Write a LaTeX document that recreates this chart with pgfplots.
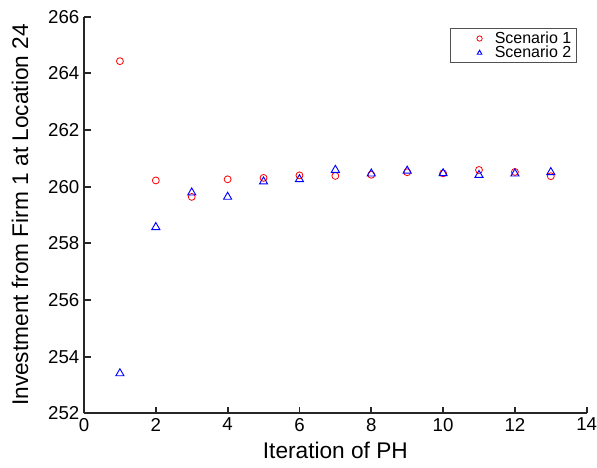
\documentclass[border=0pt]{standalone}
\usepackage{pgfplots}
\pgfplotsset{compat=1.18}
\usepackage{fontspec}
\setmainfont{Liberation Sans}

\definecolor{axgray}{RGB}{38,38,38}

\begin{document}
\begin{tikzpicture}
\begin{axis}[
    name=ax,
    scale only axis,
    width=377pt, height=297.5pt,
    xmin=0, xmax=14, ymin=252, ymax=266,
    xtick={0,2,...,14}, ytick={252,254,...,266},
    axis x line=bottom, axis y line=left,
    axis line style={-, axgray, line width=1.4pt},
    every tick/.style={axgray, line width=1.4pt},
    tick align=inside,
    major tick length=5pt,
    tick label style={font=\fontsize{14}{16}\selectfont},
    /pgf/number format/assume math mode=true,
    xlabel={Iteration of PH},
    ylabel={Investment from Firm 1 at Location 24},
    label style={font=\fontsize{17}{20}\selectfont},
    xlabel style={yshift=-1.5pt},
    ylabel style={yshift=8pt},
    clip=false,
    legend style={at={(1,1)}, anchor=north east, xshift=-7.3pt, yshift=-8.7pt,
        font=\fontsize{12}{13}\selectfont, draw=axgray!80, line width=0.6pt,
        inner xsep=2pt, inner ysep=2pt, row sep=0pt,
        nodes={text height=8.6pt, text depth=1.6pt, inner ysep=0.3pt}},
    legend cell align=left,
    legend image code/.code={
        \path[draw=none] (0,0) -- (1.02cm,0);
        \draw[#1, only marks, mark size=2pt] plot coordinates {(0.69cm,0cm)};
    },
]
\addplot[only marks, red, mark=o, mark size=2.6pt, line width=0.6pt] coordinates {
    (1,264.43) (2,260.22) (3,259.64) (4,260.26) (5,260.31) (6,260.40) (7,260.38)
    (8,260.42) (9,260.51) (10,260.47) (11,260.59) (12,260.52) (13,260.37)
};
\addlegendentry{Scenario 1}
\addplot[only marks, blue, mark=triangle, mark size=3.5pt, line width=0.7pt] coordinates {
    (1,253.41) (2,258.57) (3,259.79) (4,259.64) (5,260.18) (6,260.26) (7,260.59)
    (8,260.46) (9,260.56) (10,260.47) (11,260.41) (12,260.46) (13,260.51)
};
\addlegendentry{Scenario 2}
\end{axis}
\pgfresetboundingbox
\path ([xshift=-63pt,yshift=-40.3pt]ax.south west) rectangle ([xshift=7.7pt,yshift=12.5pt]ax.north east);
\end{tikzpicture}
\end{document}
